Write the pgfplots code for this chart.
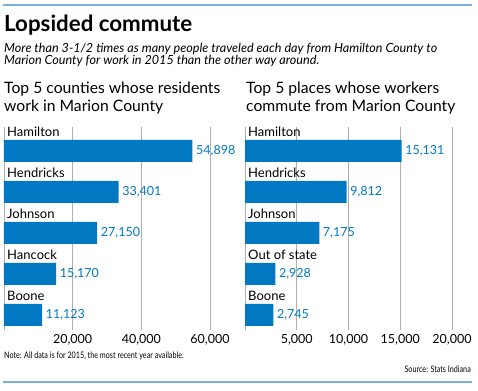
\documentclass[border=0pt]{standalone}
\usepackage{fontspec}
\setmainfont{Lato}
\newfontfamily\condfont[FakeStretch=0.8]{Lato}
\usepackage{pgfplots}
\pgfplotsset{compat=1.18}
\definecolor{barblue}{RGB}{0,121,194}
\definecolor{lineblue}{RGB}{120,175,230}
\definecolor{gridgray}{RGB}{175,175,175}
\pgfplotsset{
  commute/.style={
    scale only axis,
    xbar, bar width=22pt,
    y dir=reverse,
    ymin=-0.585, ymax=4.366,
    height=203pt,
    axis lines*=left,
    x axis line style={draw=none},
    y axis line style={draw=gridgray, line width=0.8pt},
    ytick=\empty,
    xmajorgrids,
    grid style={draw=gridgray, line width=0.8pt},
    major tick length=0pt,
    scaled x ticks=false,
    /pgf/number format/assume math mode=true,
    /pgf/number format/1000 sep={,},
    xticklabel style={font=\fontsize{12.5}{12.5}\selectfont, inner sep=0pt, anchor=north, yshift=-4.5pt},
    nodes near coords={\pgfmathprintnumber[assume math mode=true,1000 sep={,}]{\pgfplotspointmeta}},
    nodes near coords align={horizontal},
    every node near coord/.append style={font=\fontsize{12.5}{12.5}\selectfont, text=barblue, anchor=west, inner sep=0pt, xshift=3.5pt},
    clip=false,
  }
}
\begin{document}
\begin{tikzpicture}[x=1pt,y=1pt]
\useasboundingbox (0,0) rectangle (478,390);
\draw[lineblue, line width=1.4pt] (3,385) -- (472,385);
\draw[lineblue, line width=1.2pt] (3,8) -- (472,8);
\node[anchor=base west, inner sep=0pt] at (4,358) {\fontsize{22.3}{22.3}\selectfont\bfseries Lopsided commute};
\node[anchor=base west, inner sep=0pt] at (4,337) {\fontsize{12.6}{12.6}\selectfont\itshape More than 3-1/2 times as many people traveled each day from Hamilton County to};
\node[anchor=base west, inner sep=0pt] at (4,325) {\fontsize{12.6}{12.6}\selectfont\itshape Marion County for work in 2015 than the other way around.};
\node[anchor=base west, inner sep=0pt] at (4,296) {\fontsize{15.7}{15.7}\selectfont Top 5 counties whose residents};
\node[anchor=base west, inner sep=0pt] at (4,278) {\fontsize{15.7}{15.7}\selectfont work in Marion County};
\node[anchor=base west, inner sep=0pt] at (246,296) {\fontsize{15.7}{15.7}\selectfont Top 5 places whose workers};
\node[anchor=base west, inner sep=0pt] at (246,278) {\fontsize{15.7}{15.7}\selectfont commute from Marion County};
\node[anchor=base west, inner sep=0pt] at (4,31) {\fontsize{9}{9}\condfont Note: All data is for 2015, the most recent year available.};
\node[anchor=base east, inner sep=0pt] at (471,17) {\fontsize{9}{9}\condfont Source: Stats Indiana};

\begin{axis}[commute, at={(4pt,60pt)}, anchor=south west, width=206pt,
  xmin=0, xmax=60000, xtick={20000,40000,60000}]
\addplot[fill=barblue, draw=none] coordinates {(54898,0) (33401,1) (27150,2) (15170,3) (11123,4)};
\foreach \lab [count=\i from 0] in {Hamilton,Hendricks,Johnson,Hancock,Boone}{
  \edef\temp{\noexpand\node[anchor=base west, inner sep=0pt, font=\noexpand\fontsize{13}{13}\noexpand\selectfont] at (axis cs:0,\i-0.35) [xshift=3pt] {\lab};}
  \temp
}
\end{axis}

\begin{axis}[commute, at={(245pt,60pt)}, anchor=south west, width=207pt,
  xmin=0, xmax=20000, xtick={5000,10000,15000,20000}]
\addplot[fill=barblue, draw=none] coordinates {(15131,0) (9812,1) (7175,2) (2928,3) (2745,4)};
\foreach \lab [count=\i from 0] in {Hamilton,Hendricks,Johnson,Out of state,Boone}{
  \edef\temp{\noexpand\node[anchor=base west, inner sep=0pt, font=\noexpand\fontsize{13}{13}\noexpand\selectfont] at (axis cs:0,\i-0.35) [xshift=3pt] {\lab};}
  \temp
}
\end{axis}
\end{tikzpicture}
\end{document}
